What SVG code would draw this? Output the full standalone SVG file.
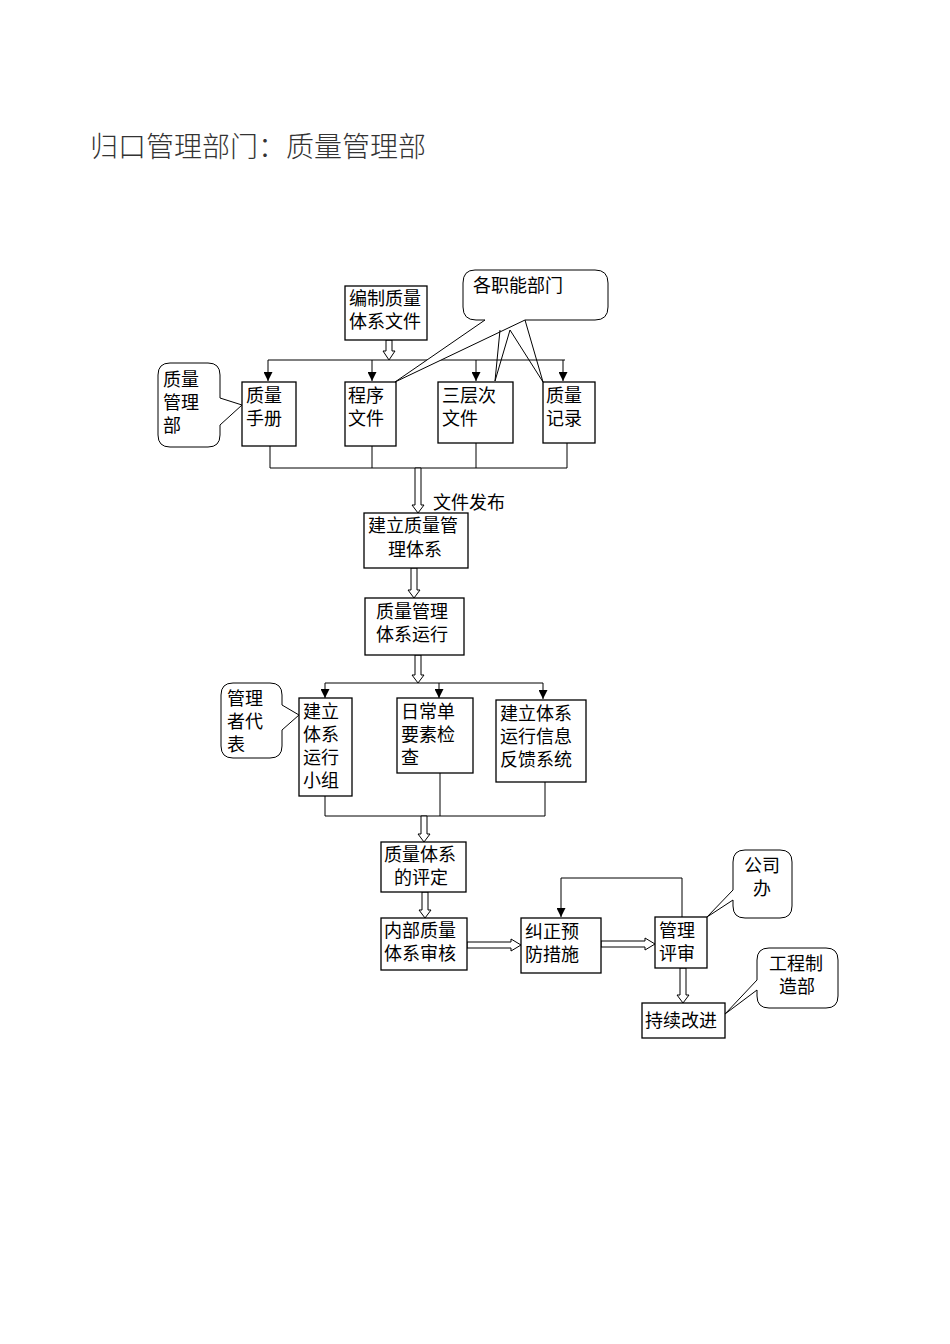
<svg xmlns="http://www.w3.org/2000/svg" width="950" height="1344" viewBox="0 0 950 1344">
<style>
.b{fill:#fff;stroke:#000;stroke-width:1.3}
.c{fill:#fff;stroke:#000;stroke-width:1}
.l{fill:none;stroke:#000;stroke-width:1}
.h{fill:#fff;stroke:#000;stroke-width:1}
text{font-family:"Noto Sans CJK SC",sans-serif;font-size:18px;fill:#000}
.t{font-size:28px;fill:#333;font-weight:300}
</style>
<defs><marker id="a" viewBox="0 0 10 10" refX="10" refY="5" markerWidth="9" markerHeight="9" orient="auto" markerUnits="userSpaceOnUse"><path d="M0,0L10,5L0,10z"/></marker></defs>
<rect width="950" height="1344" fill="#fff"/>
<text class="t" x="90" y="157">归口管理部门：质量管理部</text>
<g id="connectors">
<path class="l" d="M268,360H565"/>
<path class="l" d="M268,360V381" marker-end="url(#a)"/><path class="l" d="M372,360V381" marker-end="url(#a)"/><path class="l" d="M476,360V381" marker-end="url(#a)"/><path class="l" d="M563,360V381" marker-end="url(#a)"/>
<path class="l" d="M270,446V468M372,446V468M476,443V468M567,443V468M270,468H567"/>
<path class="l" d="M325,683H543"/>
<path class="l" d="M325,683V698" marker-end="url(#a)"/><path class="l" d="M439,683V698" marker-end="url(#a)"/><path class="l" d="M543,683V699" marker-end="url(#a)"/>
<path class="l" d="M325,796V816M440,773V816M545,782V816M325,816H545"/>
<path class="l" d="M682,917V878H561V917" marker-end="url(#a)"/>
<path class="h" d="M386,340V351H383L389,360L395,351H392V340Z"/>
<path class="h" d="M415,468V505H412L418,513L424,505H421V468Z"/>
<path class="h" d="M411,568V590H408L414,598L420,590H417V568Z"/>
<path class="h" d="M415,655V675H412L418,683L424,675H421V655Z"/>
<path class="h" d="M421,816V834H418L424,842L430,834H427V816Z"/>
<path class="h" d="M422,892V910H419L425,918L431,910H428V892Z"/>
<path class="h" d="M680,968V995H677L683,1003L689,995H686V968Z"/>
<path class="h" d="M467,942H511V939L521,945L511,951V948H467Z"/>
<path class="h" d="M601,941H645V938L655,944L645,950V947H601Z"/>
</g>
<g id="n1"><rect class="b" x="345" y="286" width="82" height="54"/><text x="349" y="305">编制质量</text><text x="349" y="328">体系文件</text></g>
<g id="n2"><rect class="b" x="242" y="382" width="54" height="64"/><text x="246" y="402">质量</text><text x="246" y="425">手册</text></g>
<g id="n3"><rect class="b" x="345" y="382" width="51" height="64"/><text x="348" y="402">程序</text><text x="348" y="425">文件</text></g>
<g id="n4"><rect class="b" x="438" y="382" width="75" height="61"/><text x="442" y="402">三层次</text><text x="442" y="425">文件</text></g>
<g id="n5"><rect class="b" x="543" y="382" width="52" height="61"/><text x="546" y="402">质量</text><text x="546" y="425">记录</text></g>
<text x="433" y="509">文件发布</text>
<g id="n6"><rect class="b" x="364" y="513" width="104" height="55"/><text x="368" y="532">建立质量管</text><text x="388" y="556">理体系</text></g>
<g id="n7"><rect class="b" x="365" y="598" width="99" height="57"/><text x="376" y="618">质量管理</text><text x="376" y="641">体系运行</text></g>
<g id="n8"><rect class="b" x="299" y="698" width="53" height="98"/><text x="303" y="718">建立</text><text x="303" y="741">体系</text><text x="303" y="764">运行</text><text x="303" y="787">小组</text></g>
<g id="n9"><rect class="b" x="397" y="698" width="76" height="75"/><text x="401" y="718">日常单</text><text x="401" y="741">要素检</text><text x="401" y="764">查</text></g>
<g id="n10"><rect class="b" x="496" y="700" width="90" height="82"/><text x="500" y="720">建立体系</text><text x="500" y="743">运行信息</text><text x="500" y="766">反馈系统</text></g>
<g id="n11"><rect class="b" x="381" y="842" width="85" height="50"/><text x="384" y="861">质量体系</text><text x="394" y="884">的评定</text></g>
<g id="n12"><rect class="b" x="381" y="918" width="86" height="52"/><text x="384" y="937">内部质量</text><text x="384" y="960">体系审核</text></g>
<g id="n13"><rect class="b" x="521" y="918" width="80" height="55"/><text x="525" y="938">纠正预</text><text x="525" y="961">防措施</text></g>
<g id="n14"><rect class="b" x="655" y="917" width="52" height="51"/><text x="659" y="937">管理</text><text x="659" y="960">评审</text></g>
<g id="n15"><rect class="b" x="642" y="1003" width="83" height="35"/><text x="645" y="1027">持续改进</text></g>
<g id="c1"><path class="c" d="M475,270H595Q608,270 608,283V307Q608,320 595,320H525L395,382L485,320H476Q463,320 463,307V283Q463,270 475,270Z"/><path class="l" d="M500,330L495,381L510,330M510,330L543,382L525,320"/><text x="473" y="292">各职能部门</text></g>
<g id="c2"><path class="c" d="M170,363H208Q220,363 220,375V398L242,405L220,425V435Q220,447 208,447H170Q158,447 158,435V375Q158,363 170,363Z"/><text x="163" y="386">质量</text><text x="163" y="409">管理</text><text x="163" y="432">部</text></g>
<g id="c3"><path class="c" d="M233,683H270Q282,683 282,695V705L299,715L282,730V746Q282,758 270,758H233Q221,758 221,746V695Q221,683 233,683Z"/><text x="227" y="705">管理</text><text x="227" y="728">者代</text><text x="227" y="751">表</text></g>
<g id="c4"><path class="c" d="M745,850H780Q792,850 792,862V906Q792,918 780,918H745Q733,918 733,906V900L707,917L733,890V862Q733,850 745,850Z"/><text x="744" y="872">公司</text><text x="753" y="895">办</text></g>
<g id="c5"><path class="c" d="M769,948H826Q838,948 838,960V996Q838,1008 826,1008H769Q757,1008 757,996V990L725,1014L757,980V960Q757,948 769,948Z"/><text x="769" y="970">工程制</text><text x="779" y="993">造部</text></g>
</svg>
